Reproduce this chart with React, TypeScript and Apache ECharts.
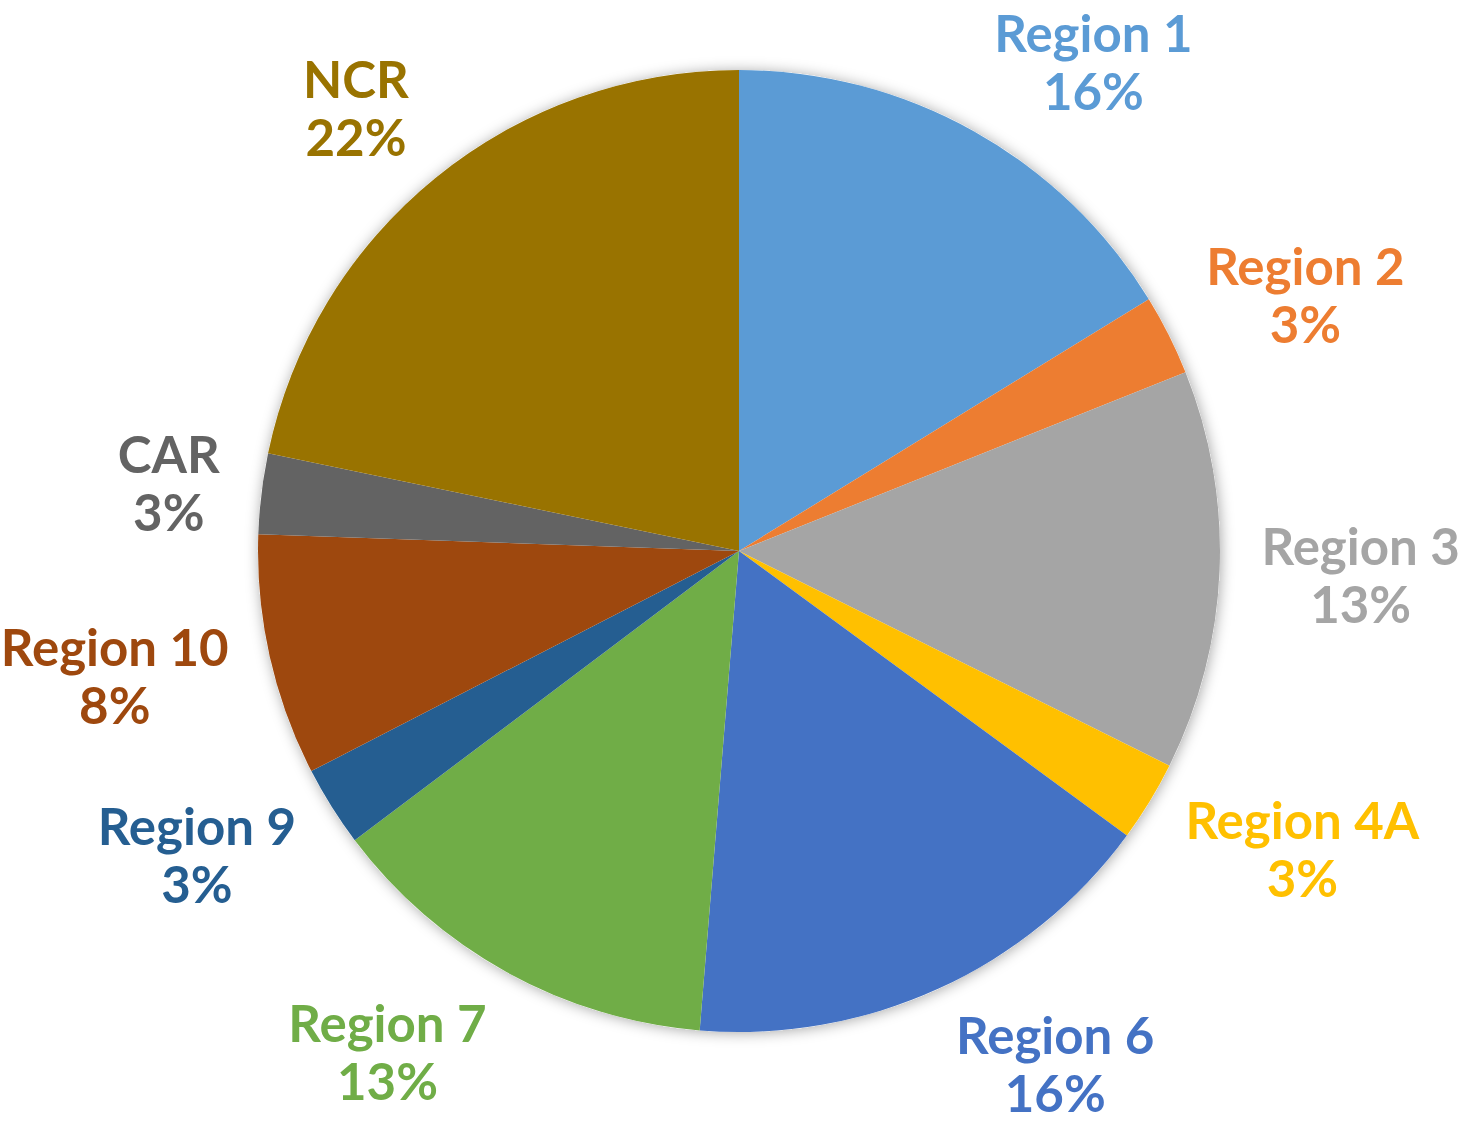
import React, { useEffect, useRef } from "react";
import * as echarts from "echarts";

const categories = ["Region 1", "Region 2", "Region 3", "Region 4A", "Region 6", "Region 7", "Region 9", "Region 10", "CAR", "NCR"];
const shares = [16.2, 2.7, 13.4, 2.7, 16.2, 13.4, 2.7, 8.1, 2.7, 21.7];
const colors = ["#5B9BD5", "#ED7D31", "#A5A5A5", "#FFC000", "#4472C4", "#70AD47", "#255E91", "#9E480E", "#636363", "#997300"];

const W = 1460;
const H = 1124;
const CX = 739;
const CY = 551;
const R = 481;
const LABEL_GAP = 42;
const EDGE = 3;

export default function App() {
  const ref = useRef<HTMLDivElement>(null);
  useEffect(() => {
    if (!ref.current) return;
    const chart = echarts.init(ref.current, null, { renderer: "svg" });
    const total = shares.reduce((a, b) => a + b, 0);
    const data = categories.map((name, i) => ({
      name,
      value: shares[i],
      itemStyle: { color: colors[i] },
      label: { color: colors[i] },
    }));
    chart.setOption({
      animation: false,
      backgroundColor: "#ffffff",
      series: [
        {
          type: "pie",
          silent: true,
          center: [CX, CY],
          radius: [0, R],
          data: [{ value: 1, name: "bg" }],
          label: { show: false },
          labelLine: { show: false },
          itemStyle: {
            color: "#ffffff",
            shadowBlur: 14,
            shadowColor: "rgba(0,0,0,0.35)",
            shadowOffsetX: 1,
            shadowOffsetY: 1,
          },
          z: 1,
        },
        {
          type: "pie",
          center: [CX, CY],
          radius: [0, R],
          startAngle: 90,
          clockwise: true,
          avoidLabelOverlap: false,
          data,
          itemStyle: { borderWidth: 0 },
          label: {
            show: true,
            position: "outside",
            fontFamily: "Lato",
            fontWeight: "bold",
            fontSize: 51,
            lineHeight: 58,
            formatter: (p: any) => `${p.name}\n${Math.round((p.value / total) * 100)}%`,
          },
          labelLine: { show: false },
          labelLayout: (params: any) => {
            if (params.seriesIndex !== 1) return {};
            const i = params.dataIndex;
            let before = 0;
            for (let k = 0; k < i; k++) before += shares[k];
            const mid = ((before + shares[i] / 2) / total) * Math.PI * 2;
            const s = Math.sin(mid);
            const c = Math.cos(mid);
            const w = params.labelRect.width;
            const h = params.labelRect.height;
            const x = CX + (R + LABEL_GAP) * s + Math.sign(s) * (w / 2);
            let y = CY - (R + LABEL_GAP) * c - c * h * 0.42;
            y = Math.max(h / 2 + EDGE, Math.min(H - h / 2 - EDGE, y));
            return { x, y, align: "center", verticalAlign: "middle" };
          },
          z: 2,
        },
      ],
    });
    return () => chart.dispose();
  }, []);
  return (
    <div
      ref={ref}
      style={{ position: "absolute", left: 0, top: 0, width: W, height: H, background: "#fff" }}
    />
  );
}
